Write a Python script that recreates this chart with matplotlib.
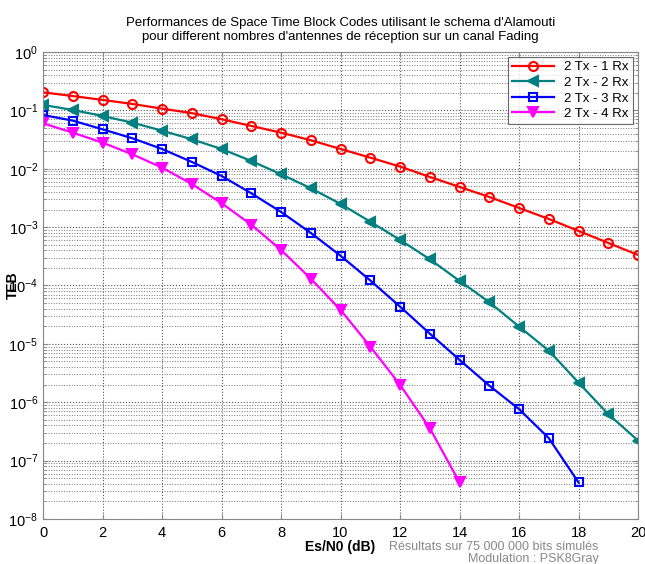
import numpy as np
import matplotlib

matplotlib.use('Agg')
import matplotlib.pyplot as plt
from matplotlib.ticker import LogLocator, FixedLocator

plt.rcParams['font.family'] = ['Liberation Sans', 'DejaVu Sans']
plt.rcParams['mathtext.default'] = 'regular'

# Es/N0 en dB
snr_1rx = list(range(0, 21))
snr_2rx = list(range(0, 21))
snr_3rx = list(range(0, 19))
snr_4rx = list(range(0, 15))

# TEB mesuré pour chaque configuration
teb_1rx = [0.204, 0.176, 0.151, 0.129, 0.107, 0.0897, 0.0705, 0.0541, 0.0415, 0.0308, 0.0218,
           0.0155, 0.0109, 0.00724, 0.00488, 0.00329, 0.00213, 0.00138, 8.61e-4, 5.36e-4, 3.34e-4]
teb_2rx = [0.124, 0.1016, 0.0802, 0.0616, 0.0449, 0.0320, 0.0218, 0.0136, 0.00805, 0.00464, 0.00250,
           1.24e-3, 6.04e-4, 2.82e-4, 1.20e-4, 5.18e-5, 1.98e-5, 7.67e-6, 2.17e-6, 6.25e-7, 2.21e-7]
teb_3rx = [0.0834, 0.0667, 0.0474, 0.0333, 0.0218, 0.0131, 0.00753, 0.00380, 0.00182, 7.96e-4,
           3.24e-4, 1.22e-4, 4.35e-5, 1.50e-5, 5.32e-6, 1.93e-6, 7.62e-7, 2.43e-7, 4.22e-8]
teb_4rx = [0.0601, 0.0415, 0.0280, 0.0177, 0.01045, 0.00549, 0.00257, 0.00110, 4.07e-4, 1.31e-4,
           3.82e-5, 9.0e-6, 1.99e-6, 3.6e-7, 4.22e-8]

labels = ['2 Tx - 1 Rx', '2 Tx - 2 Rx', '2 Tx - 3 Rx', '2 Tx - 4 Rx']
x_ticks = list(range(0, 21, 2))

fig = plt.figure(figsize=(6.45, 5.64), dpi=100, facecolor='white')
ax = fig.add_axes([0.0667, 0.0798, 0.9225, 0.828])

ax.semilogy(snr_1rx, teb_1rx, '-o', color='red', lw=1.6, ms=6.5, mfc='none', mew=1.5, label=labels[0])
ax.semilogy(snr_2rx, teb_2rx, '-<', color='#008080', lw=1.6, ms=6.5, mew=1.5, label=labels[1])
ax.semilogy(snr_3rx, teb_3rx, '-s', color='blue', lw=1.6, ms=5.5, mfc='none', mew=1.5, label=labels[2])
ax.semilogy(snr_4rx, teb_4rx, '-v', color='magenta', lw=1.6, ms=6.5, mew=1.5, label=labels[3])

ax.set_xlim(0, 20)
ax.set_ylim(1e-8, 1)
ax.xaxis.set_major_locator(FixedLocator(x_ticks))
ax.yaxis.set_major_locator(LogLocator(base=10, numticks=20))
ax.yaxis.set_minor_locator(LogLocator(base=10, subs=np.arange(2, 10), numticks=20))

ax.grid(True, which='major', linestyle=':', color='#555555', lw=0.8)
ax.grid(True, which='minor', axis='y', linestyle=':', color='#777777', lw=0.7)
ax.tick_params(which='both', direction='in', top=True, right=True, color='#888888', labelsize=10.5)
ax.tick_params(axis='x', pad=5)
ax.tick_params(which='minor', labelleft=False)
for s in ax.spines.values():
    s.set_color('#888888')

ax.set_title("Performances de Space Time Block Codes utilisant le schema d'Alamouti\n"
             "pour different nombres d'antennes de réception sur un canal Fading",
             fontsize=9.5, pad=9)
ax.set_xlabel('Es/N0 (dB)', fontsize=10, weight='bold', labelpad=0)
ax.set_ylabel('TEB', fontsize=10, weight='bold', labelpad=-8)

leg = ax.legend(loc='upper right', fontsize=9.5, frameon=True, fancybox=False,
                edgecolor='#444444', borderaxespad=0.4, handlelength=3.2,
                labelspacing=0.25, borderpad=0.3)
leg.get_frame().set_linewidth(0.8)

fig.text(0.928, 0.030, 'Résultats sur 75 000 000 bits simulés', ha='right', va='center',
         fontsize=9, color='#888888')
fig.text(0.928, 0.009, 'Modulation : PSK8Gray', ha='right', va='center',
         fontsize=9, color='#888888')

fig.savefig('out.png', dpi=100, facecolor='white')
